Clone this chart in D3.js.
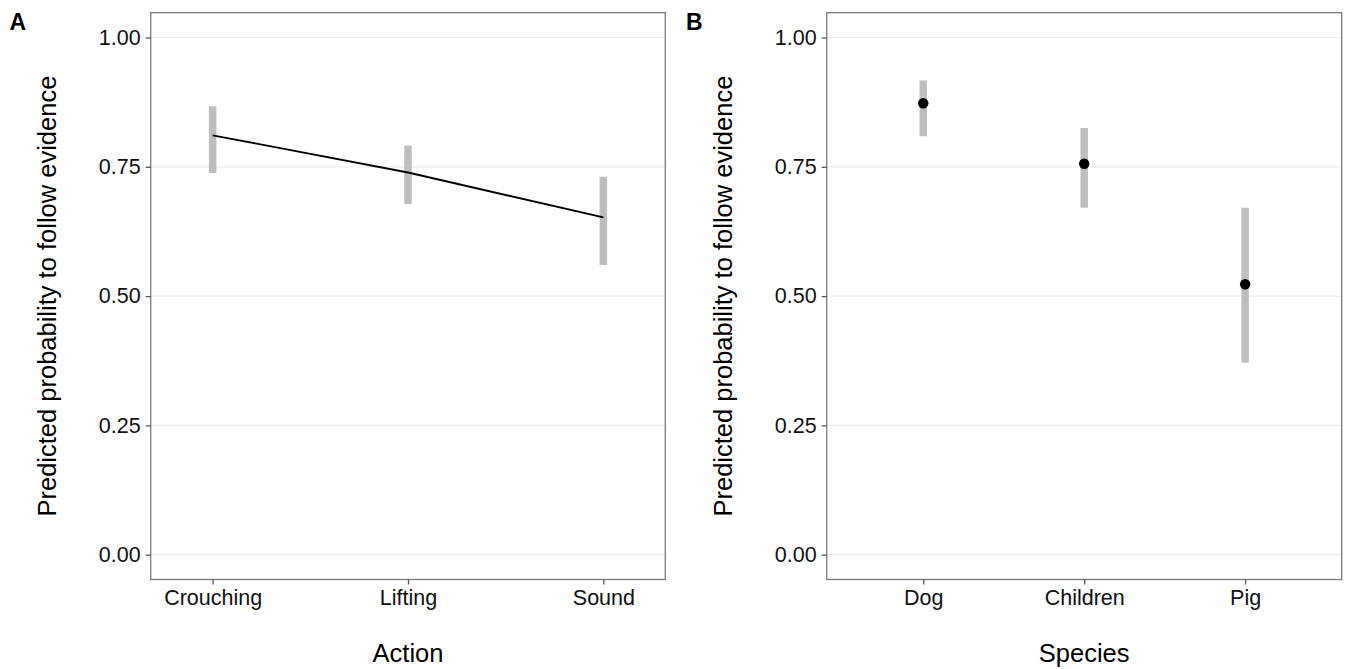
<!DOCTYPE html>
<html>
<head>
<meta charset="utf-8">
<script src="https://cdn.jsdelivr.net/npm/d3@7"></script>
<style>
  html, body { margin: 0; padding: 0; background: #fff; }
  svg { display: block; font-family: "Liberation Sans", Arial, Helvetica, sans-serif; }
</style>
</head>
<body>
<svg id="chart" width="1346" height="669"></svg>
<script>
// ---- Data ----
const actionCategories = ["Crouching", "Lifting", "Sound"];
const actionMean = [0.811, 0.739, 0.652];
const actionLower = [0.738, 0.678, 0.560];
const actionUpper = [0.867, 0.791, 0.731];

const speciesCategories = ["Dog", "Children", "Pig"];
const speciesMean = [0.873, 0.756, 0.523];
const speciesLower = [0.809, 0.671, 0.371];
const speciesUpper = [0.917, 0.825, 0.671];

const yTicks = [0, 0.25, 0.5, 0.75, 1.0];
const yTitle = "Predicted probability to follow evidence";

// ---- Layout ----
const svg = d3.select("#chart");
const plotTop = 12.7, plotBottom = 579.5;
const y = d3.scaleLinear().domain([-0.048, 1.048]).range([plotBottom, plotTop]);

function panel(opts) {
  const g = svg.append("g");
  const x = d3.scalePoint().domain(opts.categories).range([opts.left, opts.right]).padding(opts.pad);

  // gridlines
  g.selectAll("line.grid").data(yTicks).enter().append("line")
    .attr("x1", opts.left).attr("x2", opts.right)
    .attr("y1", d => y(d)).attr("y2", d => y(d))
    .attr("stroke", "#ebebeb").attr("stroke-width", 1.2);

  // error bars
  g.selectAll("line.err").data(opts.categories).enter().append("line")
    .attr("x1", d => x(d)).attr("x2", d => x(d))
    .attr("y1", (d, i) => y(opts.lower[i])).attr("y2", (d, i) => y(opts.upper[i]))
    .attr("stroke", "#bebebe").attr("stroke-width", 7.5);

  if (opts.line) {
    const line = d3.line().x((d, i) => x(opts.categories[i])).y(d => y(d));
    g.append("path").datum(opts.mean).attr("d", line)
      .attr("fill", "none").attr("stroke", "#000").attr("stroke-width", 1.8);
  }
  if (opts.points) {
    g.selectAll("circle").data(opts.mean).enter().append("circle")
      .attr("cx", (d, i) => x(opts.categories[i])).attr("cy", d => y(d))
      .attr("r", 5.2).attr("fill", "#000");
  }

  // border
  g.append("rect").attr("x", opts.left).attr("y", plotTop)
    .attr("width", opts.right - opts.left).attr("height", plotBottom - plotTop)
    .attr("fill", "none").attr("stroke", "#7a7a7a").attr("stroke-width", 1.3);

  // y axis
  const yAxis = g.append("g").attr("transform", `translate(${opts.left},0)`)
    .call(d3.axisLeft(y).tickValues(yTicks).tickFormat(d3.format(".2f")).tickSize(5).tickPadding(5));
  yAxis.select(".domain").remove();
  yAxis.selectAll(".tick line").attr("stroke", "#555").attr("stroke-width", 1.3);
  yAxis.selectAll(".tick text").attr("font-size", 21.5).attr("fill", "#111")
    .attr("font-family", "Liberation Sans, Arial, sans-serif");

  // x axis
  const xAxis = g.append("g").attr("transform", `translate(0,${plotBottom})`)
    .call(d3.axisBottom(x).tickSize(5).tickPadding(5));
  xAxis.select(".domain").remove();
  xAxis.selectAll(".tick line").attr("stroke", "#555").attr("stroke-width", 1.3);
  xAxis.selectAll(".tick text").attr("font-size", 21.5).attr("fill", "#111")
    .attr("font-family", "Liberation Sans, Arial, sans-serif");

  // titles
  g.append("text").attr("x", (opts.left + opts.right) / 2).attr("y", 662)
    .attr("text-anchor", "middle").attr("font-size", 25.5).attr("fill", "#000")
    .text(opts.xTitle);
  g.append("text")
    .attr("transform", `translate(${opts.left - 94.5},${(plotTop + plotBottom) / 2}) rotate(-90)`)
    .attr("text-anchor", "middle").attr("font-size", 25.5).attr("fill", "#000")
    .text(yTitle);

  // panel tag
  g.append("text").attr("x", opts.tagX).attr("y", 30).attr("font-size", 23)
    .attr("font-weight", "bold").attr("fill", "#000").text(opts.tag);
}

panel({
  categories: actionCategories, mean: actionMean, lower: actionLower, upper: actionUpper,
  left: 150.7, right: 665.3, pad: 0.317, line: true, points: false,
  xTitle: "Action", tag: "A", tagX: 9.5
});
panel({
  categories: speciesCategories, mean: speciesMean, lower: speciesLower, upper: speciesUpper,
  left: 826.7, right: 1341.7, pad: 0.6, line: false, points: true,
  xTitle: "Species", tag: "B", tagX: 686
});
</script>
</body>
</html>
